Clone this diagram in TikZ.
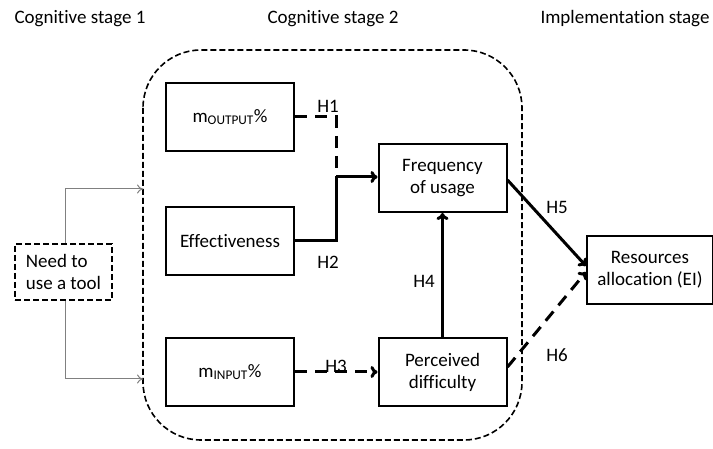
\documentclass[tikz,border=0pt]{standalone}
\usepackage{fontspec}
\setmainfont{Carlito}[Ligatures=NoCommon]
\usetikzlibrary{arrows.meta}
\begin{document}
\begin{tikzpicture}[x=1pt,y=-1pt,
  font=\fontsize{19}{22}\selectfont,
  box/.style={draw,line width=2pt,minimum width=128pt,minimum height=68pt,inner sep=0pt,align=center},
  conn/.style={line width=3pt,-{To[length=7pt,width=12pt]}},
  dconn/.style={conn,dash pattern=on 12pt off 8pt},
  gconn/.style={draw=gray,line width=1pt,-{To[length=6pt,width=9pt]}},
  lbl/.style={inner sep=1pt}]
\useasboundingbox (0,0) rectangle (713,449);
% titles
\node (t1) at (80,19) {Cognitive stage 1};
\node (t2) at (333,19) {Cognitive stage 2};
\node (t3) at (625,19) {Implementation stage};
% dashed container
\draw[line width=1.6pt,dash pattern=on 6pt off 3pt,rounded corners=58pt] (143,50) rectangle (522,440);
\coordinate (ctop) at (143,189);
\coordinate (cbot) at (143,379);
% boxes
\node[draw,line width=2pt,dash pattern=on 6pt off 3pt,minimum width=97pt,minimum height=56pt,inner sep=0pt,align=left] (need) at (63.5,272) {Need to\\use a tool};
\node[box] (mout) at (230,117) {m\textsubscript{OUTPUT}\%};
\node[box] (eff) at (230,241) {Effectiveness};
\node[box] (freq) at (442.5,178) {Frequency\\of usage};
\node[box] (min) at (230,372) {m\textsubscript{INPUT}\%};
\node[box] (perc) at (442.5,372) {Perceived\\difficulty};
\node[box,minimum width=126pt] (res) at (650,270) {Resources\\allocation (EI)};
% gray connectors
\draw[gconn] (need.north -| 65,0) |- (ctop);
\draw[gconn] (need.south -| 65,0) |- (cbot);
% H1, H2
\coordinate (j) at (336,177);
\draw[line width=3pt,dash pattern=on 12pt off 8pt] (mout.east) -| (j);
\draw[line width=3pt] (eff.east) -| (j);
\draw[conn] (j) -- (freq.west |- j);
\node[lbl] (h1) at (328,106) {H1};
\node[lbl] (h2) at (328,262) {H2};
% H3
\draw[dconn] (min.east) -- (perc.west);
\node[lbl] (h3) at (336,366) {H3};
% H4
\draw[conn] (perc.north) -- (freq.south);
\node[lbl] (h4) at (424,281) {H4};
% H5, H6
\draw[conn] (freq.east |- 0,180) -- (res.west |- 0,266);
\draw[dconn] (perc.east |- 0,367) -- (res.west |- 0,272);
\node[lbl] (h5) at (557,207) {H5};
\node[lbl] (h6) at (557,355) {H6};
\end{tikzpicture}
\end{document}
